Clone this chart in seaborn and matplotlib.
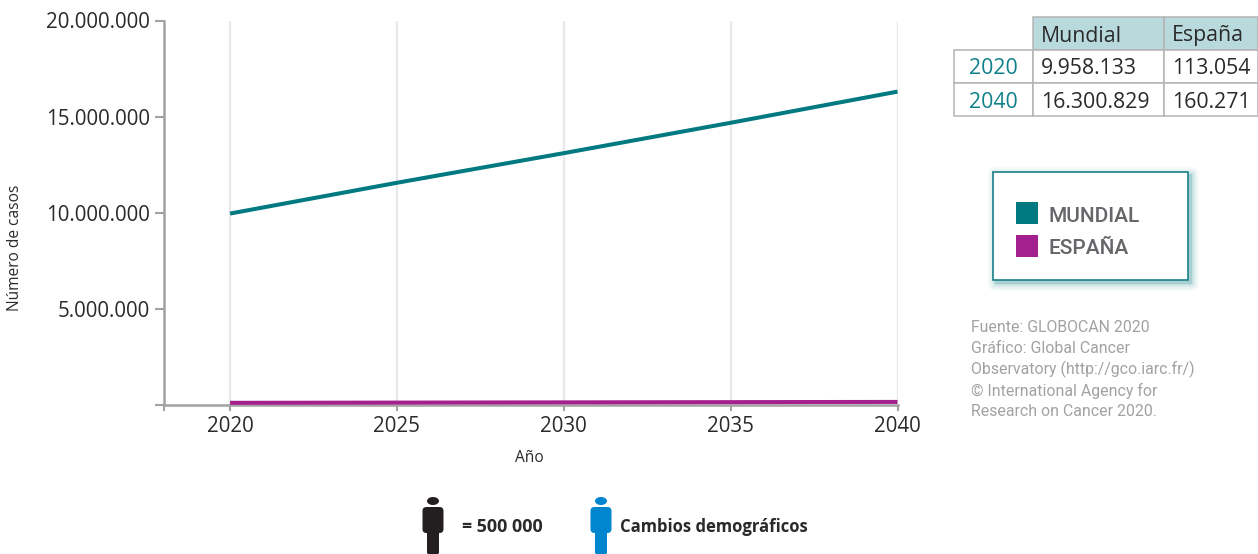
import matplotlib
matplotlib.use("Agg")
import matplotlib.pyplot as plt
from matplotlib.patches import Rectangle, Ellipse, FancyBboxPatch
from matplotlib.ticker import FuncFormatter
import pandas as pd
import seaborn as sns

W, H = 1258, 554

YEARS = [2020, 2025, 2030, 2035, 2040]
MUNDIAL = [9958133, 11560000, 13100000, 14680000, 16300829]
ESPANA = [113054, 125000, 137000, 149000, 160271]
Y_TICKS = [5000000, 10000000, 15000000, 20000000]
TABLE_HEAD = ["Mundial", "España"]
TABLE_YEARS = ["2020", "2040"]
TABLE_ROWS = [["9.958.133", "113.054"], ["16.300.829", "160.271"]]
SOURCE = ["Fuente: GLOBOCAN 2020", "Gráfico: Global Cancer",
          "Observatory (http://gco.iarc.fr/)", "© International Agency for",
          "Research on Cancer 2020."]

TEAL = "#007A80"
PURPLE = "#A3208E"
GREY = "#A3A1A2"
TEXT = "#2B2A2B"
MAIN_FONT = ["Open Sans", "DejaVu Sans"]
NARROW_FONT = ["Roboto", "DejaVu Sans"]

sns.set_theme(style="white")
plt.rcParams["font.family"] = MAIN_FONT

df = pd.DataFrame({
    "year": YEARS * 2,
    "cases": MUNDIAL + ESPANA,
    "region": ["Mundial"] * len(YEARS) + ["España"] * len(YEARS),
})

fig = plt.figure(figsize=(W / 100, H / 100), dpi=100)
ax = fig.add_axes([164 / W, 1 - 405 / H, (897.5 - 164) / W, (405 - 20.5) / H])

sns.lineplot(data=df, x="year", y="cases", hue="region",
             palette={"Mundial": TEAL, "España": PURPLE},
             linewidth=2.9, legend=False, ax=ax, zorder=3, clip_on=False,
             solid_capstyle="butt")

ax.set_xlim(2018.02, 2040)
ax.set_ylim(0, 20000000)
ax.set_xticks(YEARS)
ax.set_xticks([2018.02], minor=True)
ax.set_yticks([0] + Y_TICKS)
ax.yaxis.set_major_formatter(FuncFormatter(
    lambda v, p: "" if v == 0 else f"{int(v):,}".replace(",", ".")))
ax.tick_params(axis="y", length=6.5, width=1.5, color=GREY, labelsize=14.8,
               labelcolor=TEXT, pad=3.6, left=True)
ax.tick_params(axis="x", which="both", length=4.5, width=1.5, color=GREY, labelsize=14.8,
               labelcolor=TEXT, pad=3.4, bottom=True)
ax.grid(axis="x", color="#E9E9E9", linewidth=1.7)
ax.grid(axis="y", visible=False)
ax.set_axisbelow(True)
for side in ["top", "right"]:
    ax.spines[side].set_visible(False)
for side in ["left", "bottom"]:
    ax.spines[side].set_color(GREY)
    ax.spines[side].set_linewidth(1.8)
ax.set_xlabel("")
ax.set_ylabel("")

# overlay in pixel coordinates for the annotations around the plot
ov = fig.add_axes([0, 0, 1, 1], zorder=5)
ov.set_xlim(0, W)
ov.set_ylim(H, 0)
ov.axis("off")

ov.text(15, 248, "Número de casos", rotation=90, ha="center", va="center",
        fontsize=11.2, color=TEXT)
ov.text(529, 458, "Año", ha="center", va="center", fontsize=11.2, color=TEXT)

# table
col_x = [1033, 1164, 1258]
row_y = [17, 50, 83, 116]
line = dict(edgecolor="#B4B4B4", linewidth=1.1)
for c, name in enumerate(TABLE_HEAD):
    ov.add_patch(Rectangle((col_x[c], row_y[0]), col_x[c + 1] - col_x[c], 33,
                           facecolor="#B9DADD", **line))
    ov.text(col_x[c] + 8, 36, name, va="center", fontsize=15.3, color=TEXT)
for r, year in enumerate(TABLE_YEARS):
    top = row_y[r + 1]
    ov.add_patch(Rectangle((954, top), 79, 33, facecolor="white", **line))
    ov.text(1018, top + 19, year, ha="right", va="center", fontsize=15.3, color="#0E8089")
    for c, val in enumerate(TABLE_ROWS[r]):
        ov.add_patch(Rectangle((col_x[c], top), col_x[c + 1] - col_x[c], 33,
                               facecolor="white", **line))
        ov.text(col_x[c] + 8, top + 19, val, va="center", fontsize=15.3, color=TEXT)

# legend box with a soft shadow
for grow, alpha in [(8, 0.04), (6, 0.06), (4, 0.08), (2, 0.12), (1, 0.16)]:
    ov.add_patch(FancyBboxPatch((996 - grow, 175 - grow), 195 + 2 * grow, 108 + 2 * grow,
                                boxstyle=f"round,pad=0,rounding_size={grow}",
                                facecolor="#1F8A92", edgecolor="none", alpha=alpha))
ov.add_patch(Rectangle((993, 172), 195, 108, facecolor="white", edgecolor="#1B8089", linewidth=1.2))
ov.add_patch(Rectangle((1016, 202), 22, 22, facecolor=TEAL, edgecolor="none"))
ov.add_patch(Rectangle((1016, 235), 22, 22, facecolor=PURPLE, edgecolor="none"))
ov.text(1049, 216, "MUNDIAL", va="center", fontsize=15, color="#67676B", family=NARROW_FONT, fontweight="medium")
ov.text(1049, 248, "ESPAÑA", va="center", fontsize=15, color="#67676B", family=NARROW_FONT, fontweight="medium")

# source note
for i, txt in enumerate(SOURCE):
    ov.text(971, 327 + i * 21.2, txt, va="center", fontsize=11.4, color="#A3A1A2", family=NARROW_FONT)


def person(x, color):
    ov.add_patch(Ellipse((x, 501), 12, 8, facecolor=color, edgecolor="none"))
    ov.add_patch(FancyBboxPatch((x - 10.5, 507), 21, 26, boxstyle="round,pad=0,rounding_size=4",
                                facecolor=color, edgecolor="none"))
    ov.add_patch(FancyBboxPatch((x - 6, 528), 12, 26, boxstyle="round,pad=0,rounding_size=1.5",
                                facecolor=color, edgecolor="none"))


person(433, "#231F20")
person(601, "#0085CF")
ov.text(462, 527, "= 500 000", va="center", fontsize=12.9, fontweight="bold", color=TEXT)
ov.text(620, 527, "Cambios demográficos", va="center", fontsize=12, fontweight="bold", color=TEXT)

fig.savefig("out.png", dpi=100, facecolor="white")
